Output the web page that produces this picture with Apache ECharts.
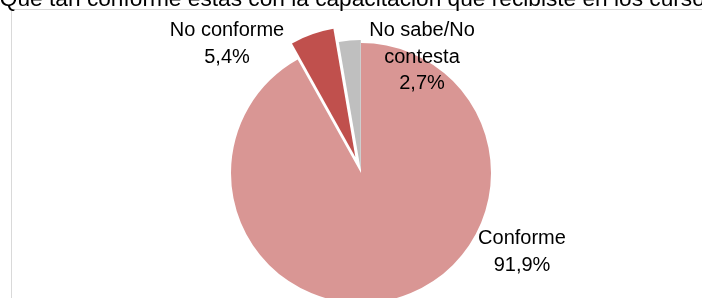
<!DOCTYPE html>
<html>
<head>
<meta charset="utf-8">
<script src="https://cdn.jsdelivr.net/npm/echarts@6/dist/echarts.min.js"></script>
<style>
  html, body { margin: 0; padding: 0; background: #fff; }
  #chart { width: 702px; height: 298px; }
</style>
</head>
<body>
<div id="chart"></div>
<script>
const titleText = '¿Qué tan conforme estás con la capacitación que recibiste en los cursos?'
const categories = ['Conforme', 'No conforme', 'No sabe/No contesta']
const values = [91.9, 5.4, 2.7]

// look
const colors = ['#D99694', '#C0504D', '#BFBFBF']
const explode = [0, 17, 3]
const labelPos = [[522, 252], [227, 44], [422, 57]]
const pieCenter = [361, 173]
const font = '"Liberation Sans", Arial, sans-serif'

const chart = echarts.init(document.getElementById('chart'))

const fmt = (v) => v.toFixed(1).replace('.', ',') + '%'
const total = values.reduce((a, b) => a + b, 0)

// one pie per slice; an exploded slice gets its centre pushed out along its mid angle
let before = 0
const series = categories.map((name, i) => {
  const mid = ((before + values[i] / 2) / total) * 2 * Math.PI
  before += values[i]
  return {
    type: 'pie',
    silent: true,
    animation: false,
    center: [pieCenter[0] + Math.sin(mid) * explode[i], pieCenter[1] - Math.cos(mid) * explode[i]],
    radius: 130,
    startAngle: 90,
    clockwise: true,
    avoidLabelOverlap: false,
    labelLine: { show: false },
    label: {
      show: true,
      position: 'inside',
      fontFamily: font,
      fontSize: 20,
      lineHeight: 26.5,
      color: '#000',
      align: 'center',
      formatter: (p) => p.name.replace('/No ', '/No\n') + '\n' + fmt(p.value),
    },
    labelLayout: (p) =>
      p.dataIndex === i
        ? { x: labelPos[i][0], y: labelPos[i][1], align: 'center', verticalAlign: 'middle' }
        : {},
    data: categories.map((n, j) => ({
      name: n,
      value: values[j],
      itemStyle: { color: j === i ? colors[j] : 'rgba(0,0,0,0)', borderWidth: 0 },
      label: { show: j === i },
    })),
  }
})

chart.setOption({
  backgroundColor: '#fff',
  title: {
    text: titleText,
    left: -14,
    top: -12,
    padding: 0,
    textStyle: {
      fontFamily: font,
      fontSize: 22.7,
      fontWeight: 'normal',
      color: '#000',
    },
  },
  graphic: [
    {
      type: 'rect',
      z: -1,
      silent: true,
      shape: { x: 11.5, y: 9.5, width: 800, height: 400 },
      style: { fill: 'none', stroke: '#D9D9D9', lineWidth: 1 },
    },
  ],
  series,
})
</script>
</body>
</html>
